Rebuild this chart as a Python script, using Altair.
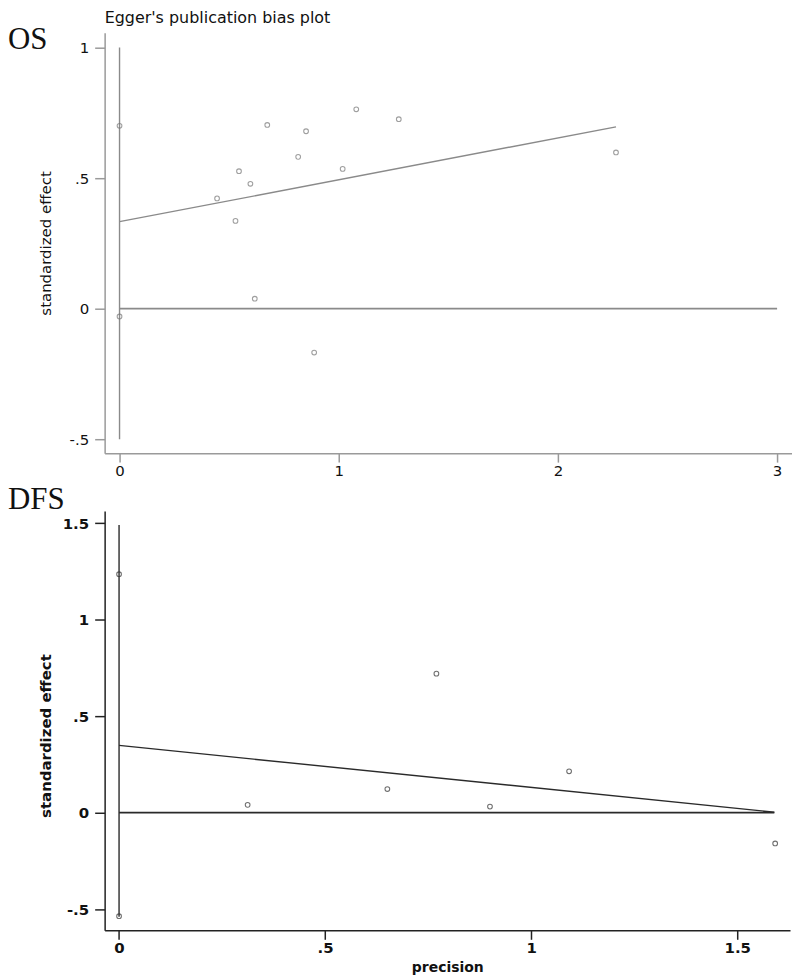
import altair as alt
import pandas as pd

# ---------------- data ----------------
os_precision = [0.0, 0.0, 0.674, 0.851, 1.080, 1.274, 0.815, 1.018, 0.545, 0.597, 0.445, 0.529, 0.617, 0.888, 2.265]
os_effect = [0.700, -0.030, 0.703, 0.679, 0.763, 0.725, 0.581, 0.535, 0.526, 0.478, 0.422, 0.336, 0.038, -0.168, 0.598]
os_fit_precision = [0.0, 2.265]
os_fit_effect = [0.333, 0.696]
os_ci = [-0.5, 1.0]
os_zero_end = 3.0

dfs_precision = [0.0, 0.0, 0.312, 0.651, 0.770, 0.900, 1.092, 1.592]
dfs_effect = [1.235, -0.537, 0.040, 0.122, 0.720, 0.031, 0.214, -0.160]
dfs_fit_precision = [0.0, 1.590]
dfs_fit_effect = [0.348, 0.002]
dfs_ci = [-0.54, 1.49]
dfs_zero_end = 1.59

os_xticks = [0, 1, 2, 3]
os_yticks = [-0.5, 0, 0.5, 1]
dfs_xticks = [0, 0.5, 1, 1.5]
dfs_yticks = [-0.5, 0, 0.5, 1, 1.5]

FONT = "DejaVu Sans"
LABEL_EXPR = "datum.value == 0.5 ? '.5' : (datum.value == -0.5 ? '-.5' : datum.label)"


def panel(prec, eff, fit_x, fit_y, ci, zero_end, xdom, ydom, xticks, yticks,
          w, h, line_color, axis_color, point_color, weight, panel_label,
          xtitle=None, header=None, ytitle_shift=0):
    xaxis = alt.Axis(values=xticks, format="~g", tickSize=9, labelPadding=1, labelFontSize=15,
                     labelFont=FONT, labelFontWeight=weight, labelColor="#111",
                     labelExpr=LABEL_EXPR, labelFlush=False, labelOverlap=False,
                     domainColor=axis_color, tickColor=axis_color, domainWidth=1.5,
                     tickWidth=1.5, grid=False, title=xtitle,
                     titleFont=FONT, titleFontSize=14, titleFontWeight="bold",
                     titleColor="#111", titleY=41, titleBaseline="alphabetic")
    yaxis = alt.Axis(values=yticks, format="~g", tickSize=10, labelPadding=6, labelFontSize=15,
                     labelFont=FONT, labelFontWeight=weight, labelColor="#111",
                     labelExpr=LABEL_EXPR, labelFlush=False, labelOverlap=False,
                     domainColor=axis_color, tickColor=axis_color, domainWidth=1.5,
                     tickWidth=1.5, grid=False, title="standardized effect",
                     titleFont=FONT, titleFontSize=15, titleFontWeight=weight,
                     titleColor="#111", titleX=-54, titleY=h / 2 + ytitle_shift, titleAngle=270,
                     titleAlign="center", titleBaseline="alphabetic")
    xs = alt.Scale(domain=xdom, nice=False, zero=False)
    ys = alt.Scale(domain=ydom, nice=False, zero=False)
    X = alt.X("precision:Q", scale=xs, axis=xaxis)
    Y = alt.Y("effect:Q", scale=ys, axis=yaxis)

    zero_df = pd.DataFrame({"precision": [0.0], "precision2": [zero_end], "effect": [0.0]})
    ci_df = pd.DataFrame({"precision": [0.0], "effect": [ci[0]], "effect2": [ci[1]]})
    fit_df = pd.DataFrame({"precision": fit_x, "effect": fit_y})
    pts_df = pd.DataFrame({"precision": prec, "effect": eff})

    zero = alt.Chart(zero_df).mark_rule(color=line_color, strokeWidth=1.6).encode(
        x=X, x2="precision2:Q", y=Y)
    cil = alt.Chart(ci_df).mark_rule(color=line_color, strokeWidth=1.4).encode(
        x=X, y=Y, y2="effect2:Q")
    fit = alt.Chart(fit_df).mark_line(color=line_color, strokeWidth=1.4).encode(x=X, y=Y)
    pts = alt.Chart(pts_df).mark_point(shape="circle", filled=False, size=22,
                                       color=point_color, strokeWidth=1.1).encode(x=X, y=Y)
    lab = alt.Chart(pd.DataFrame({"t": [panel_label]})).mark_text(
        font="Liberation Serif", fontSize=31, align="left", baseline="alphabetic",
        color="#111").encode(x=alt.value(-97), y=alt.value(16 if header else -2), text="t:N")
    layers = [zero, cil, fit, pts, lab]
    if header:
        hd = alt.Chart(pd.DataFrame({"t": [header]})).mark_text(
            font=FONT, fontSize=16, align="left", baseline="top", color="#111").encode(
            x=alt.value(0), y=alt.value(-23), text="t:N")
        layers.append(hd)
    return alt.layer(*layers).properties(width=w, height=h)


top = panel(os_precision, os_effect, os_fit_precision, os_fit_effect, os_ci, os_zero_end,
            [-0.068, 3.068], [-0.553, 1.056], os_xticks, os_yticks, 690, 422,
            "#8a8a8a", "#9a9a9a", "#777777", "normal", "OS",
            header="Egger's publication bias plot")
bottom = panel(dfs_precision, dfs_effect, dfs_fit_precision, dfs_fit_effect, dfs_ci, dfs_zero_end,
               [-0.035, 1.628], [-0.61, 1.563], dfs_xticks, dfs_yticks, 688, 421,
               "#2a2a2a", "#222222", "#333333", "bold", "DFS", xtitle="precision",
               ytitle_shift=15)

chart = alt.vconcat(top, bottom, spacing=6).properties(
    padding={"left": 0, "top": 0, "right": 0, "bottom": 0}
).configure(background="white").configure_view(stroke="transparent", strokeWidth=0)

chart.save("out.html", embed_options={"renderer": "svg", "actions": False})
